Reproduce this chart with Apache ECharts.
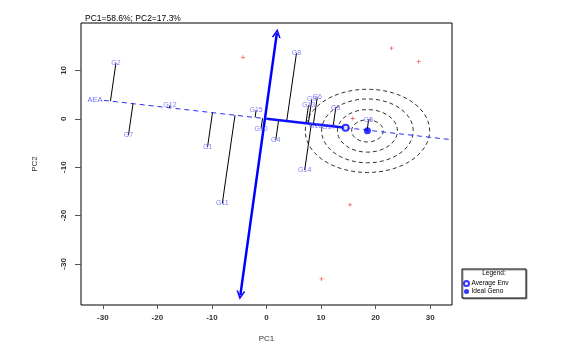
<!DOCTYPE html>
<html>
<head>
<meta charset="utf-8">
<script src="https://cdn.jsdelivr.net/npm/echarts@6/dist/echarts.min.js"></script>
<style>
html, body { margin: 0; padding: 0; background: #fff; }
#gge { width: 571px; height: 348px; }
</style>
</head>
<body>
<div id="gge"></div>
<script>
/* GGE biplot: mean vs stability */
var genoNames = ['G1', 'G2', 'G3', 'G4', 'G5', 'G6', 'G7', 'G8', 'G9', 'G10',
                 'G11', 'G12', 'G13', 'G14', 'G15', 'G16', 'G17'];
var genoX = [-10.8, -27.6, 12.7, 1.7, 18.7, 9.3, -25.3, 5.5, 8.3, -1.0,
             -8.1, -17.7, 7.7, 7.0, -1.9, 9.0, 11.4];
var genoY = [-5.8, 11.5, 2.3, -4.4, -0.35, 4.4, -3.4, 13.6, 4.0, -2.05,
             -17.5, 2.8, 2.8, -10.6, 1.8, -1.5, -1.7];
var envX = [-4.3, 22.9, 27.9, 15.8, 15.3, 10.1];
var envY = [12.7, 14.6, 11.8, 0.06, -17.8, -33.1];
var avgEnv = [14.5, -1.85];
var idealGeno = [18.5, -2.5];
var aeaRange = [-29.8, 34];          // x extent of the dashed AEA line
var aecTop = [1.9, 17.7];
var aecBottom = [-4.8, -36.5];
var ringRx = [2.9, 5.5, 8.4, 11.4];
var ringRy = [2.3, 4.4, 6.6, 8.6];
var xTicks = [-30, -20, -10, 0, 10, 20, 30];
var yTicks = [-30, -20, -10, 0, 10];

var slope = avgEnv[1] / avgEnv[0];
var aeaLine = aeaRange.map(function (x) { return [x, x * slope]; });

// perpendicular foot of each genotype on the AEA line
var projLines = genoNames.map(function (n, i) {
    var t = (genoX[i] + genoY[i] * slope) / (1 + slope * slope);
    return { coords: [[genoX[i], genoY[i]], [t, t * slope]] };
});

var chevron = 'path://M0,10 L5,0 L10,10 L8.2,10 L5,3.6 L1.8,10 Z';
var axisFont = { color: '#333', fontSize: 8, fontFamily: 'Liberation Sans', fontWeight: 'bold' };

var option = {
    animation: false,
    title: {
        text: 'PC1=58.6%; PC2=17.3%',
        left: 80, top: 9,
        textStyle: { fontSize: 8.5, fontWeight: 'normal', color: '#000', fontFamily: 'Liberation Sans' }
    },
    grid: { left: 81, right: 119, top: 23, bottom: 41, show: true, borderColor: '#000', borderWidth: 1 },
    legend: {
        orient: 'vertical', left: 463, top: 280, padding: 0,
        itemWidth: 6, itemHeight: 5, itemGap: 1,
        textStyle: { fontSize: 6.5, lineHeight: 7, color: '#000', fontFamily: 'Liberation Sans', padding: [0, 0, 0, -3] },
        data: [
            { name: 'Average Env', icon: 'emptyCircle' },
            { name: 'Ideal Geno', icon: 'circle' }
        ]
    },
    graphic: [
        { type: 'rect', shape: { x: 462, y: 269, width: 64, height: 29 },
          style: { fill: '#fff', stroke: '#000', lineWidth: 1, shadowColor: '#999', shadowOffsetX: 1, shadowOffsetY: 1 }, z: -1 },
        { type: 'text', x: 494, y: 270,
          style: { text: 'Legend:', fontSize: 6.5, fill: '#000', textAlign: 'center', fontFamily: 'Liberation Sans' } }
    ],
    xAxis: {
        type: 'value', min: -34, max: 34,
        name: 'PC1', nameLocation: 'middle', nameGap: 30,
        nameTextStyle: { fontSize: 8, color: '#333', fontFamily: 'Liberation Sans' },
        axisLine: { show: false, onZero: false },
        splitLine: { show: false },
        axisTick: { show: true, length: 4, lineStyle: { color: '#555' }, customValues: xTicks },
        axisLabel: Object.assign({ margin: 9, customValues: xTicks }, axisFont)
    },
    yAxis: {
        type: 'value', min: -38.5, max: 19.8,
        name: 'PC2', nameLocation: 'middle', nameGap: 42, nameRotate: 90,
        nameTextStyle: { fontSize: 8, color: '#333', fontFamily: 'Liberation Sans' },
        axisLine: { show: false, onZero: false },
        splitLine: { show: false },
        axisTick: { show: true, length: 6, lineStyle: { color: '#555' }, customValues: yTicks },
        axisLabel: Object.assign({ margin: 13, rotate: 90, customValues: yTicks }, axisFont)
    },
    series: [
        {
            type: 'custom',
            silent: true,
            data: ringRx.map(function (r, i) { return [idealGeno[0], idealGeno[1], r, ringRy[i]]; }),
            renderItem: function (params, api) {
                var c = api.coord([api.value(0), api.value(1)]);
                var s = api.size([api.value(2), api.value(3)]);
                return {
                    type: 'ellipse',
                    shape: { cx: c[0], cy: c[1], rx: s[0], ry: s[1] },
                    style: { fill: 'none', stroke: '#333', lineWidth: 1, lineDash: [4, 3] }
                };
            },
            z: 1
        },
        {
            type: 'line', data: aeaLine, symbol: 'none', silent: true,
            lineStyle: { color: '#2b2bff', width: 1, type: [5, 4] }, z: 2
        },
        {
            type: 'lines', coordinateSystem: 'cartesian2d', data: projLines, silent: true,
            lineStyle: { color: '#000', width: 1, opacity: 1 }, z: 3
        },
        {
            type: 'line', data: [[0, 0], avgEnv], symbol: 'none', silent: true,
            lineStyle: { color: '#1010ff', width: 2.5 }, z: 4
        },
        {
            type: 'lines', coordinateSystem: 'cartesian2d', silent: true,
            data: [{ coords: [aecBottom, aecTop] }],
            symbol: [chevron, chevron], symbolSize: [9, 9],
            lineStyle: { color: '#0000ff', width: 2.5, opacity: 1 }, z: 5
        },
        {
            type: 'scatter', data: envX.map(function (x, i) { return [x, envY[i]]; }), silent: true,
            symbol: 'path://M4,0 H6 V4 H10 V6 H6 V10 H4 V6 H0 V4 H4 Z', symbolSize: 4,
            itemStyle: { color: '#ff3a3a' }, z: 6
        },
        {
            type: 'scatter', data: genoX.map(function (x, i) { return [x, genoY[i], genoNames[i]]; }), silent: true,
            symbolSize: 1, itemStyle: { color: 'rgba(0,0,0,0)' },
            label: {
                show: true, position: 'inside', color: '#5c5cff', fontSize: 7, fontFamily: 'Liberation Sans',
                formatter: function (p) { return p.value[2]; }
            }, z: 7
        },
        {
            type: 'scatter', data: [aeaLine[0]], silent: true,
            symbolSize: 1, itemStyle: { color: 'rgba(0,0,0,0)' },
            label: { show: true, position: 'left', distance: 1, formatter: 'AEA', color: '#4a4aff', fontSize: 7.5, fontFamily: 'Liberation Sans' },
            z: 7
        },
        {
            name: 'Average Env', type: 'scatter', data: [avgEnv], symbol: 'emptyCircle', symbolSize: 6,
            itemStyle: { color: '#0000ff', borderWidth: 1.5 }, z: 8
        },
        {
            name: 'Ideal Geno', type: 'scatter', data: [idealGeno], symbol: 'circle', symbolSize: 7,
            itemStyle: { color: '#0000ff' }, z: 8
        }
    ]
};

var myChart = echarts.init(document.getElementById('gge'));
myChart.setOption(option);
</script>
</body>
</html>
